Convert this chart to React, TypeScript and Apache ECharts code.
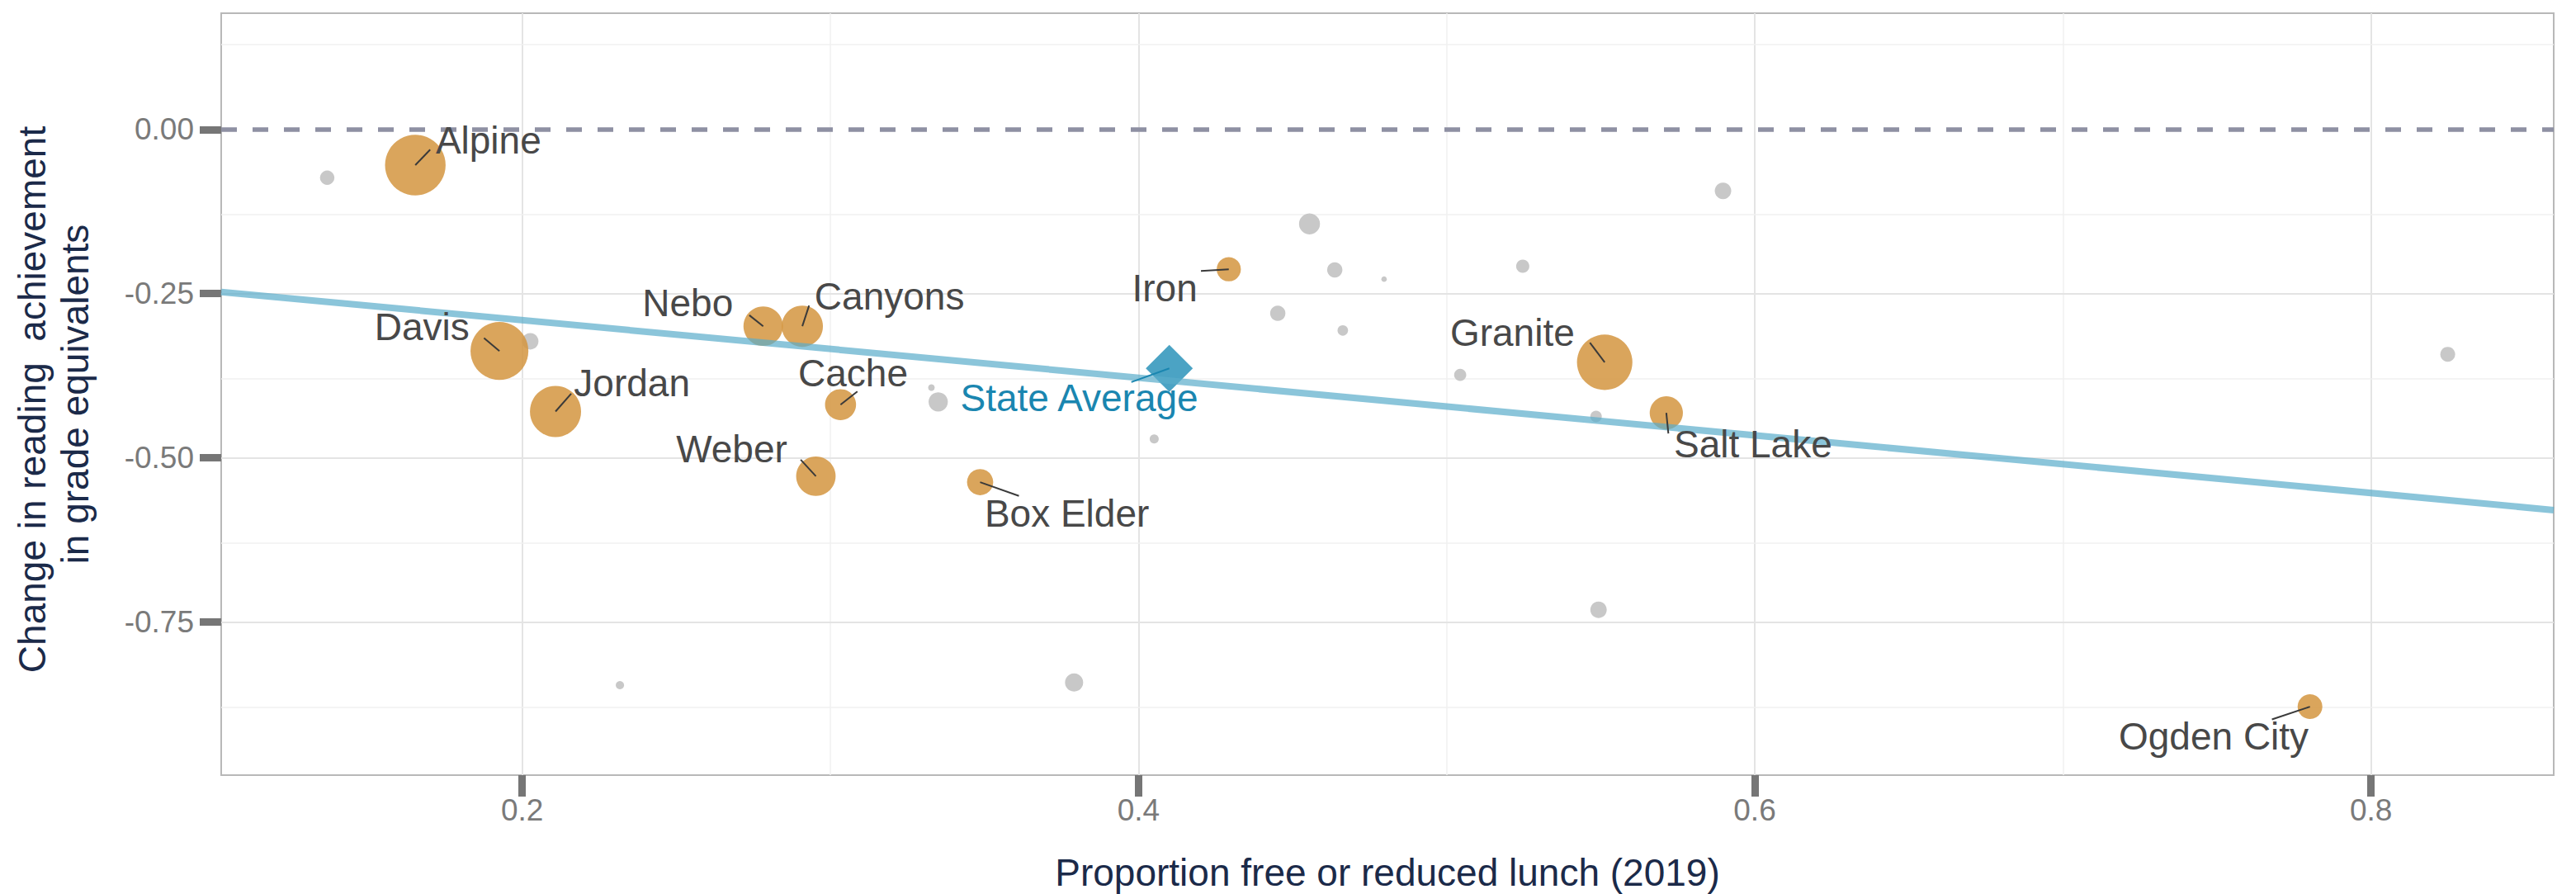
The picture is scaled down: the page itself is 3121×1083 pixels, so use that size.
import React, { useEffect, useRef } from "react";
import * as echarts from "echarts";

// ---------- data ----------
const districtNames = [
  "Alpine", "Davis", "Jordan", "Nebo", "Canyons", "Cache",
  "Weber", "Box Elder", "Iron", "Granite", "Salt Lake", "Ogden City",
];
const districtFrl = [0.1653, 0.1926, 0.2108, 0.2782, 0.2909, 0.3033, 0.2953, 0.3486, 0.4293, 0.5513, 0.5713, 0.7802];
const districtChange = [-0.0543, -0.3373, -0.4294, -0.2996, -0.2996, -0.419, -0.5279, -0.537, -0.2129, -0.3545, -0.4315, -0.8788];
const districtStudentsK = [80, 73, 57, 34, 37, 21, 34, 15, 12.8, 67, 24, 13.4];

const otherFrl = [0.1367, 0.2026, 0.2317, 0.3328, 0.335, 0.3791, 0.4051, 0.4452, 0.4555, 0.4637, 0.4663, 0.4797, 0.5044, 0.5247, 0.5485, 0.5493, 0.5897, 0.8249];
const otherChange = [-0.0735, -0.3226, -0.846, -0.393, -0.4148, -0.842, -0.4713, -0.2799, -0.1438, -0.2138, -0.306, -0.228, -0.3737, -0.2083, -0.437, -0.7313, -0.0936, -0.3423];
const otherStudentsK = [4.5, 5.9, 1.5, 0.95, 8.1, 7.2, 1.8, 5.1, 9.6, 5.1, 2.4, 0.65, 3.2, 3.8, 2.9, 5.9, 5.9, 4.8];

const stateName = "State Average";
const stateFrl = 0.41;
const stateChange = -0.3637;

const fitFrl = [0.1023, 0.8593];
const fitChange = [-0.2475, -0.5795];

const xTicks = [0.2, 0.4, 0.6, 0.8];
const xMinor = [0.3, 0.5, 0.7];
const yTicks = [0, -0.25, -0.5, -0.75];
const yMinor = [0.125, -0.125, -0.375, -0.625, -0.875];

const X_MIN = 0.1023;
const X_MAX = 0.8593;
const Y_MIN = -0.983;
const Y_MAX = 0.1769;

const xTitle = "Proportion free or reduced lunch (2019)";
const yTitle1 = "Change in reading  achievement";
const yTitle2 = "in grade equivalents";

// ---------- layout / style ----------
const FONT = '"Liberation Sans", Arial, Helvetica, sans-serif';
const NAVY = "#1b2a49";
const LABEL_GREY = "#484848";
const STATE_BLUE = "#1a86b0";
const R_PER_SQRT_K = 4.103;
const sizeOf = (k: number) => 2 * R_PER_SQRT_K * Math.sqrt(k);

// label offsets in pixels relative to the point (repel-style placement)
type Lay = { dx: number; dy: number; align: "left" | "right"; sx: number; sy: number };
const labelLayout: Record<string, Lay> = {
  Alpine: { dx: 24.7, dy: -29.7, align: "left", sx: 18, sy: -18.7 },
  Davis: { dx: -36.4, dy: -28.7, align: "right", sx: -18.7, sy: -15.7 },
  Jordan: { dx: 22.3, dy: -34.3, align: "left", sx: 19, sy: -21.6 },
  Nebo: { dx: -36.4, dy: -28, align: "right", sx: -16.8, sy: -13.3 },
  Canyons: { dx: 14.8, dy: -36, align: "left", sx: 8.2, sy: -25 },
  Cache: { dx: -51.3, dy: -37.7, align: "left", sx: 20.4, sy: -16 },
  Weber: { dx: -34.7, dy: -32.7, align: "right", sx: -18.4, sy: -20 },
  "Box Elder": { dx: 5.4, dy: 37.7, align: "left", sx: 47, sy: 16.7 },
  Iron: { dx: -38, dy: 23, align: "right", sx: -33.7, sy: 2 },
  Granite: { dx: -36.4, dy: -35.4, align: "right", sx: -17.9, sy: -23.7 },
  "Salt Lake": { dx: 9.1, dy: 38, align: "left", sx: 2.5, sy: 25 },
  "Ogden City": { dx: -1.6, dy: 36, align: "right", sx: -46.1, sy: 15.4 },
  "State Average": { dx: 35, dy: 36.3, align: "right", sx: -46, sy: 16.7 },
};

const labelNames = [...districtNames, stateName];
const labelX = [...districtFrl, stateFrl];
const labelY = [...districtChange, stateChange];

function buildOption(): any {
  const gridMarks: any[] = [
    ...xTicks.map((v) => ({ xAxis: v, lineStyle: { color: "#e4e4e4", width: 2, type: "solid" } })),
    ...xMinor.map((v) => ({ xAxis: v, lineStyle: { color: "#f1f1f1", width: 1.5, type: "solid" } })),
    ...yTicks.filter((v) => v !== 0).map((v) => ({ yAxis: v, lineStyle: { color: "#e4e4e4", width: 2, type: "solid" } })),
    ...yMinor.map((v) => ({ yAxis: v, lineStyle: { color: "#f1f1f1", width: 1.5, type: "solid" } })),
    { yAxis: 0, lineStyle: { color: "#8e90a3", width: 5.5, type: [19, 19] } },
  ];

  return {
    animation: false,
    backgroundColor: "#ffffff",
    grid: {
      left: 268,
      right: 27,
      top: 16,
      bottom: 144,
      show: true,
      borderColor: "#b8b8b8",
      borderWidth: 2,
      backgroundColor: "transparent",
      containLabel: false,
      outerBoundsMode: "none",
    },
    xAxis: {
      type: "value",
      min: X_MIN,
      max: X_MAX,
      axisLine: { show: false, onZero: false },
      splitLine: { show: false },
      axisTick: { show: true, customValues: xTicks, length: 26, lineStyle: { color: "#767676", width: 9 } },
      axisLabel: {
        customValues: xTicks,
        formatter: (v: number) => v.toFixed(1),
        margin: 24,
        fontSize: 37,
        color: "#7a7a7a",
        fontFamily: FONT,
      },
    },
    yAxis: {
      type: "value",
      min: Y_MIN,
      max: Y_MAX,
      axisLine: { show: false, onZero: false },
      splitLine: { show: false },
      axisTick: { show: true, customValues: yTicks, length: 26, lineStyle: { color: "#767676", width: 9 } },
      axisLabel: {
        customValues: yTicks,
        formatter: (v: number) => v.toFixed(2),
        margin: 33,
        fontSize: 37,
        color: "#7a7a7a",
        fontFamily: FONT,
      },
    },
    graphic: [
      {
        type: "text",
        x: 39,
        y: 484,
        rotation: Math.PI / 2,
        style: { text: yTitle1, font: `46px ${FONT}`, fill: NAVY, textAlign: "center", textVerticalAlign: "middle" },
      },
      {
        type: "text",
        x: 91,
        y: 477.5,
        rotation: Math.PI / 2,
        style: { text: yTitle2, font: `46px ${FONT}`, fill: NAVY, textAlign: "center", textVerticalAlign: "middle" },
      },
      {
        type: "text",
        x: 1681,
        y: 1057,
        style: { text: xTitle, font: `46px ${FONT}`, fill: NAVY, textAlign: "center", textVerticalAlign: "middle" },
      },
    ],
    series: [
      {
        type: "line",
        name: "grid",
        data: [],
        silent: true,
        z: 1,
        markLine: {
          silent: true,
          z: 1,
          symbol: ["none", "none"],
          label: { show: false },
          emphasis: { disabled: true },
          data: gridMarks,
        },
      },
      {
        type: "scatter",
        name: "Other districts",
        z: 2,
        silent: true,
        symbol: "circle",
        itemStyle: { color: "#c8c8c8", opacity: 1 },
        data: otherFrl.map((x, i) => ({ value: [x, otherChange[i]], symbolSize: sizeOf(otherStudentsK[i]) })),
      },
      {
        type: "scatter",
        name: "Large districts",
        z: 3,
        silent: true,
        symbol: "circle",
        itemStyle: { color: "#d4953f", opacity: 0.85 },
        data: districtFrl.map((x, i) => ({ value: [x, districtChange[i]], symbolSize: sizeOf(districtStudentsK[i]) })),
      },
      {
        type: "scatter",
        name: stateName,
        z: 3,
        silent: true,
        symbol: "diamond",
        symbolSize: 57,
        itemStyle: { color: "#2c93ba", opacity: 0.85 },
        data: [[stateFrl, stateChange]],
      },
      {
        type: "line",
        name: "fit",
        z: 4,
        silent: true,
        symbol: "none",
        lineStyle: { color: "#5aaccb", width: 8, opacity: 0.7 },
        data: fitFrl.map((x, i) => [x, fitChange[i]]),
      },
      {
        type: "custom",
        name: "labels",
        z: 6,
        silent: true,
        coordinateSystem: "cartesian2d",
        encode: { x: 0, y: 1 },
        data: labelX.map((x, i) => [x, labelY[i]]),
        renderItem: (params: any, api: any) => {
          const i = params.dataIndex;
          const name = labelNames[i];
          const L = labelLayout[name];
          const p = api.coord([api.value(0), api.value(1)]);
          const color = name === stateName ? STATE_BLUE : LABEL_GREY;
          return {
            type: "group",
            children: [
              {
                type: "line",
                shape: { x1: p[0], y1: p[1], x2: p[0] + L.sx, y2: p[1] + L.sy },
                style: { stroke: name === stateName ? STATE_BLUE : "#3a3a3a", lineWidth: 2 },
              },
              {
                type: "text",
                x: p[0] + L.dx,
                y: p[1] + L.dy,
                style: {
                  text: name,
                  fill: color,
                  font: `46px ${FONT}`,
                  textAlign: L.align,
                  align: L.align,
                  textVerticalAlign: "middle",
                  verticalAlign: "middle",
                },
              },
            ],
          };
        },
      },
    ],
  };
}

export default function App() {
  const ref = useRef<HTMLDivElement>(null);
  useEffect(() => {
    if (!ref.current) return;
    const chart = echarts.init(ref.current, null, { renderer: "svg" });
    chart.setOption(buildOption());
    return () => {
      chart.dispose();
    };
  }, []);
  return (
    <div
      ref={ref}
      style={{ position: "fixed", left: 0, top: 0, width: 3121, height: 1083, background: "#ffffff" }}
    />
  );
}
